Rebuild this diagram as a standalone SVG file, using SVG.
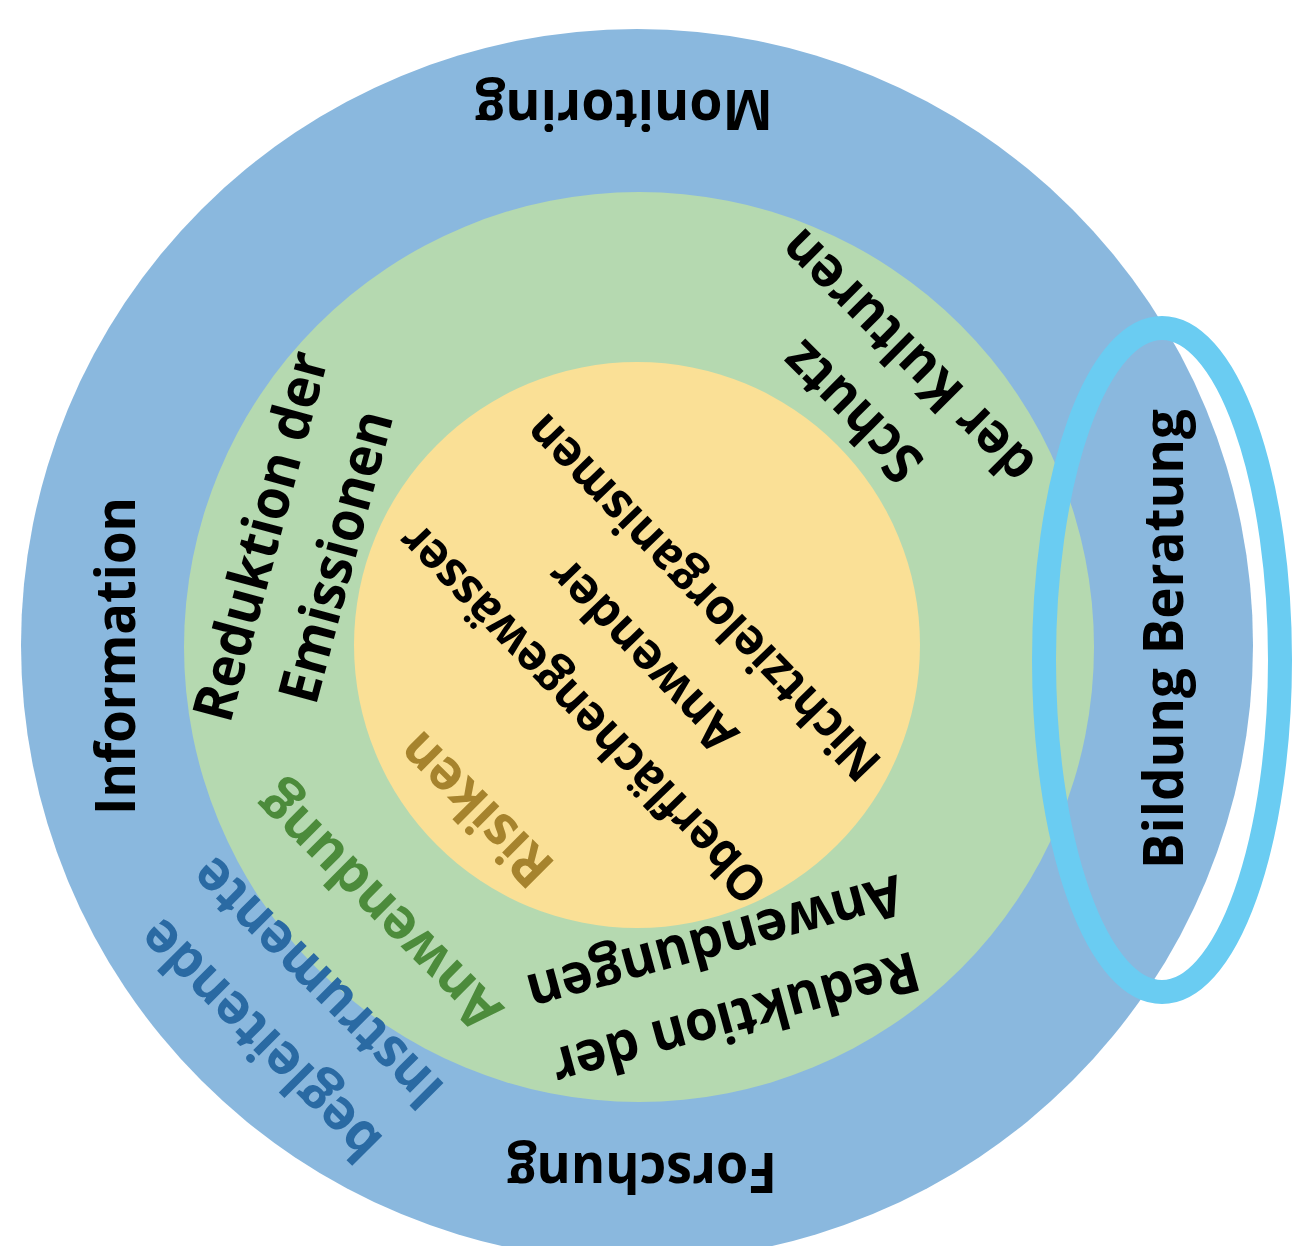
<svg xmlns="http://www.w3.org/2000/svg" width="1295" height="1246" viewBox="0 0 1295 1246">
<style>
text { font-family: "Open Sans", "Liberation Sans", sans-serif; font-weight: 700; text-anchor: middle; fill: #000; }
.lg { font-size: 56px; }
.sm { font-size: 50px; }
.gold { fill: #A6832D; }
.grn { fill: #4C8B3B; }
.blu { fill: #2A6AA3; }
</style>
<rect width="1295" height="1246" fill="#ffffff"/>
<g id="ring-outer"><circle cx="637" cy="645" r="616" fill="#8AB8DE"/></g>
<g id="ring-middle"><circle cx="639" cy="647" r="455" fill="#B5D9B0"/></g>
<g id="ring-inner"><circle cx="637" cy="645" r="283" fill="#FAE096"/></g>

<g id="monitoring" transform="translate(624,90) rotate(180)"><text class="lg" x="0" y="0" textLength="298" lengthAdjust="spacingAndGlyphs">Monitoring</text></g>
<g id="forschung" transform="translate(642,1153) rotate(180)"><text class="lg" x="0" y="0" textLength="270" lengthAdjust="spacingAndGlyphs">Forschung</text></g>
<g id="information" transform="translate(135,656) rotate(-90)"><text class="lg" x="0" y="0" textLength="318" lengthAdjust="spacingAndGlyphs">Information</text></g>
<g id="bildung" transform="translate(1183,639) rotate(-90)"><text class="lg" x="0" y="0" textLength="460" lengthAdjust="spacingAndGlyphs">Bildung Beratung</text></g>

<g id="emissionen" transform="translate(300.5,547) rotate(-75)">
<text class="lg" x="0" y="-22" textLength="380" lengthAdjust="spacingAndGlyphs">Reduktion der</text>
<text class="lg" x="0" y="56" textLength="300" lengthAdjust="spacingAndGlyphs">Emissionen</text>
</g>
<g id="schutz" transform="translate(881,383) rotate(-135)">
<text class="lg" x="0" y="-22" textLength="173" lengthAdjust="spacingAndGlyphs">Schutz</text>
<text class="lg" x="0" y="56" textLength="334" lengthAdjust="spacingAndGlyphs">der Kulturen</text>
</g>
<g id="risiken-ziele" transform="translate(644,654) rotate(-134)">
<text class="sm" x="0" y="-68.5" textLength="505" lengthAdjust="spacingAndGlyphs">Oberflächengewässer</text>
<text class="sm" x="0" y="15" textLength="248" lengthAdjust="spacingAndGlyphs">Anwender</text>
<text class="sm" x="0" y="98.5" textLength="486" lengthAdjust="spacingAndGlyphs">Nichtzielorganismen</text>
</g>
<g id="risiken" transform="translate(477,808) rotate(-135)"><text class="lg gold" x="0" y="17" textLength="192" lengthAdjust="spacingAndGlyphs">Risiken</text></g>
<g id="anwendung" transform="translate(380,906.5) rotate(-135)"><text class="lg grn" x="0" y="17" textLength="321" lengthAdjust="spacingAndGlyphs">Anwendung</text></g>
<g id="begleitende" transform="translate(290,1010.5) rotate(-135)">
<text class="lg blu" x="0" y="-23.3" textLength="316" lengthAdjust="spacingAndGlyphs">begleitende</text>
<text class="lg blu" x="0" y="57.3" textLength="329" lengthAdjust="spacingAndGlyphs">Instrumente</text>
</g>
<g id="anwendungen" transform="translate(725,979.5) rotate(164.7)">
<text class="lg" x="0" y="-22" textLength="378" lengthAdjust="spacingAndGlyphs">Reduktion der</text>
<text class="lg" x="0" y="56" textLength="387" lengthAdjust="spacingAndGlyphs">Anwendungen</text>
</g>

<g id="highlight"><ellipse cx="1162" cy="660" rx="118" ry="332" fill="none" stroke="#6ACCF2" stroke-width="24"/></g>
</svg>
